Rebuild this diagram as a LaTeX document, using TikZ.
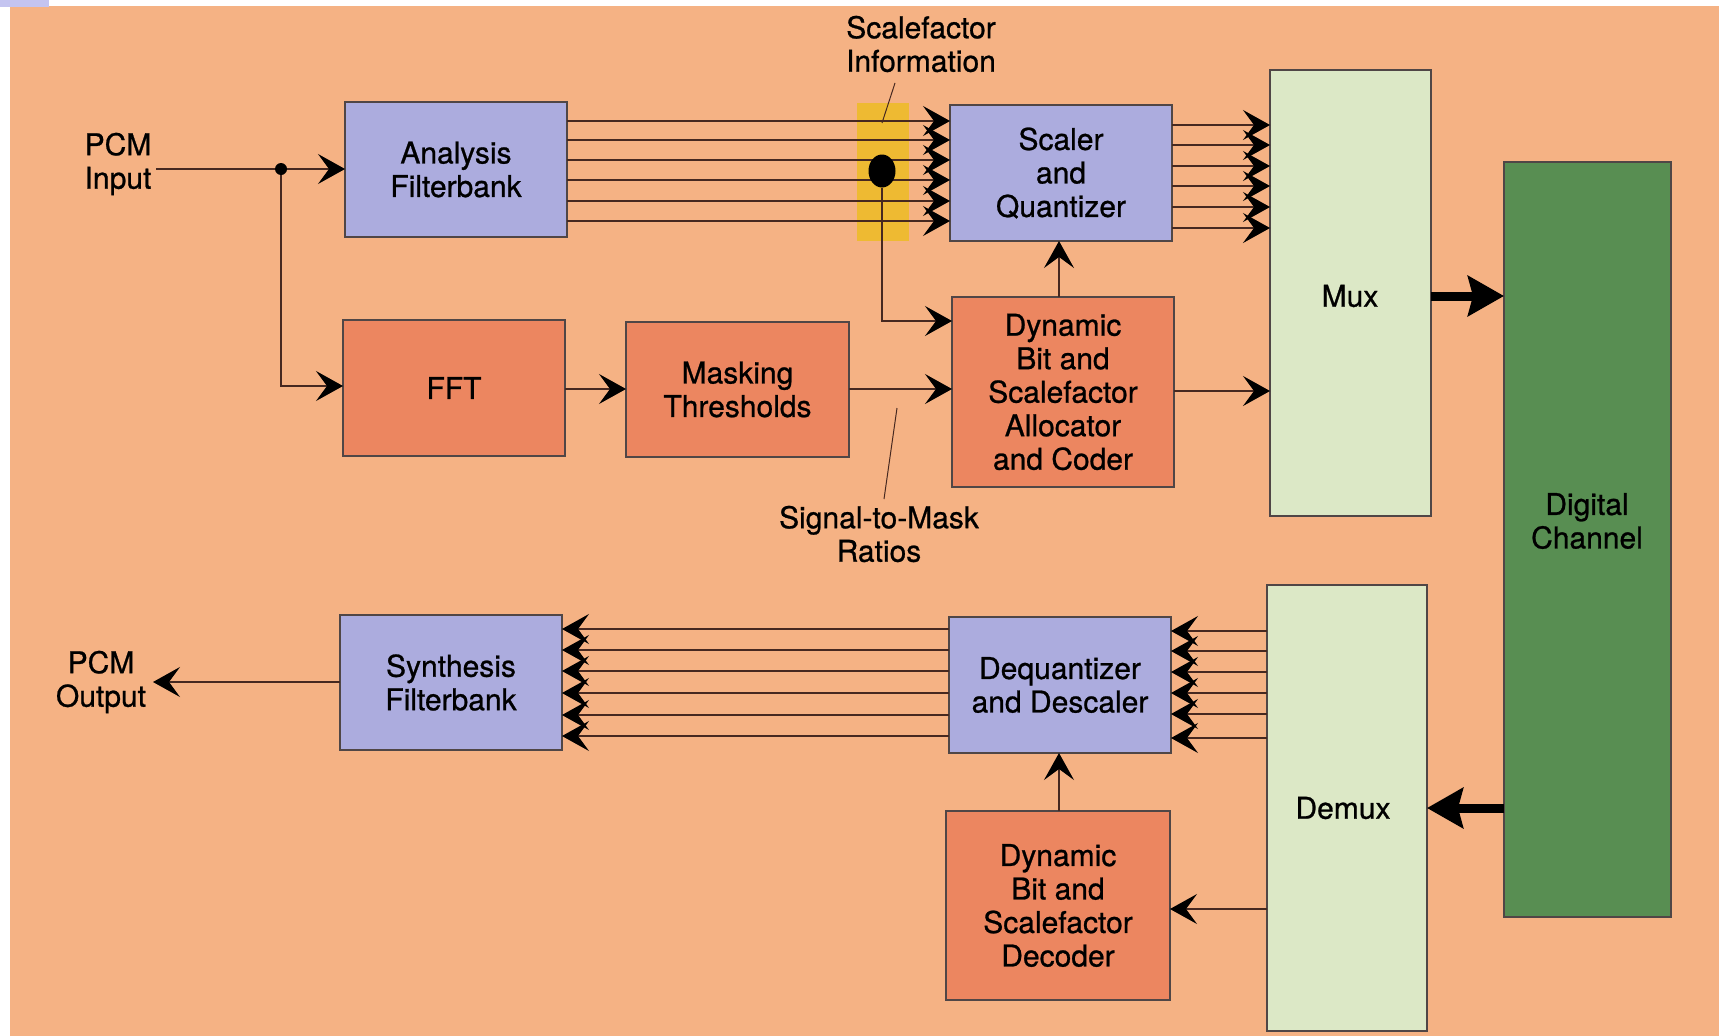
\documentclass[tikz,border=0pt]{standalone}
\usepackage{fontspec}
\setmainfont[FakeBold=0.8]{TeX Gyre Heros}
\usetikzlibrary{arrows.meta,shapes.geometric}
\definecolor{bgc}{RGB}{245,178,132}
\definecolor{bluec}{RGB}{172,172,222}
\definecolor{redc}{RGB}{236,134,96}
\definecolor{paleg}{RGB}{220,232,198}
\definecolor{darkg}{RGB}{88,142,82}
\definecolor{yelc}{RGB}{238,186,50}
\definecolor{lavc}{RGB}{196,196,240}
\definecolor{boxline}{RGB}{80,70,70}
\definecolor{wirec}{RGB}{70,40,32}
\newcommand\fsz{\fontsize{30}{33.5}\selectfont}
\tikzset{
 bx/.style={draw=boxline, line width=1.5pt, inner sep=0pt, outer sep=0pt, align=center, font=\fsz},
 bluebox/.style={bx, fill=bluec},
 redbox/.style={bx, fill=redc},
 muxbox/.style={bx, fill=paleg},
 chanbox/.style={bx, fill=darkg},
 lbl/.style={align=center, inner sep=0pt, font=\fsz},
 wire/.style={draw=wirec, line width=1.3pt},
 chev/.style={wire, -{Stealth[length=27pt,width=30pt,inset=11pt,color=black]}},
 bigarrow/.style={draw=black, line width=9pt, -{Stealth[length=36pt,width=40pt,inset=5pt]}},
}
\begin{document}
\begin{tikzpicture}[x=1pt,y=-1pt]
\useasboundingbox (0,0) rectangle (1719,1036);
\fill[white] (0,0) rectangle (1719,1036);
\fill[bgc] (10,6) rectangle (1719,1036);
\fill[lavc] (0,0) rectangle (49,7);

% yellow band
\node[fill=yelc, minimum width=52pt, minimum height=138pt, inner sep=0pt, outer sep=0pt] (band) at (883,172) {};

% boxes
\node[bluebox, minimum width=222pt, minimum height=135pt] (ana) at (456,169.5) {Analysis\\Filterbank};
\node[redbox, minimum width=222pt, minimum height=136pt] (fft) at (454,388) {FFT};
\node[redbox, minimum width=223pt, minimum height=135pt] (mask) at (737.5,389.5) {Masking\\Thresholds};
\node[bluebox, minimum width=222pt, minimum height=136pt] (sq) at (1061,173) {Scaler\\and\\Quantizer};
\node[redbox, minimum width=222pt, minimum height=190pt] (dyn) at (1063,392) {Dynamic\\Bit and\\Scalefactor\\Allocator\\and Coder};
\node[muxbox, minimum width=161pt, minimum height=446pt] (mux) at (1350.5,293) {};
\node[lbl] (muxt) at (1350,296) {Mux};
\node[chanbox, minimum width=167pt, minimum height=755pt] (ch) at (1587.5,539.5) {};
\node[lbl] (cht) at (1587,521) {Digital\\Channel};
\node[muxbox, minimum width=160pt, minimum height=446pt] (dmx) at (1347,808) {};
\node[lbl] (dmxt) at (1343,808) {Demux};
\node[bluebox, minimum width=222pt, minimum height=136pt] (dq) at (1060,685) {Dequantizer\\and Descaler};
\node[bluebox, minimum width=222pt, minimum height=135pt] (syn) at (451,682.5) {Synthesis\\Filterbank};
\node[redbox, minimum width=224pt, minimum height=189pt] (dec) at (1058,905.5) {Dynamic\\Bit and\\Scalefactor\\Decoder};

% labels
\node[lbl] (pcmin) at (118,164) {PCM\\Input};
\node[lbl] (pcmout) at (101,682) {PCM\\Output};
\node[lbl] (sfi) at (921,44) {Scalefactor\\Information};
\node[lbl] (smr) at (879,534) {Signal-to-Mask\\Ratios};

\coordinate (inStart) at (156,169);
\coordinate (outTip) at (153,682);
\coordinate (sfiA) at (895,83);
\coordinate (sfiB) at (882,123);
\coordinate (smrA) at (897,408);
\coordinate (smrB) at (884,499);

% input split
\node[circle, fill=black, minimum size=12pt, inner sep=0pt] (j1) at (281,169) {};
\draw[wire] (inStart) -- (j1);
\draw[chev] (j1) -- (ana.west |- j1);
\draw[chev] (j1) |- (fft.west |- 0,386);

% analysis -> scaler (six subbands)
\foreach \y in {121,140,160,180,201,221}
  \draw[chev] (ana.east |- 0,\y) -- (sq.west |- 0,\y);

% scalefactor dot
\node[ellipse, fill=black, minimum width=27pt, minimum height=33pt, inner sep=0pt] (dot) at (882,171) {};
\draw[chev] (dot) |- (dyn.west |- 0,321);

% fft -> masking -> dynamic
\draw[chev] (fft.east |- 0,389) -- (mask.west |- 0,389);
\draw[chev] (mask.east |- 0,389) -- (dyn.west |- 0,389);
\draw[chev] (dyn.north -| 1059,0) -- (sq.south -| 1059,0);
\draw[chev] (dyn.east |- 0,391) -- (mux.west |- 0,391);

% scaler -> mux
\foreach \y in {125,145,166,186,207,228}
  \draw[chev] (sq.east |- 0,\y) -- (mux.west |- 0,\y);

% channel arrows
\draw[bigarrow] (mux.east |- 0,296) -- (ch.west |- 0,296);
\draw[bigarrow] (ch.west |- 0,808) -- (dmx.east |- 0,808);

% demux -> dequantizer
\foreach \y in {631,651,672,693,714,738}
  \draw[chev] (dmx.west |- 0,\y) -- (dq.east |- 0,\y);
% dequantizer -> synthesis
\foreach \y in {629,650,671,693,715,736}
  \draw[chev] (dq.west |- 0,\y) -- (syn.east |- 0,\y);

\draw[chev] (dmx.west |- 0,909) -- (dec.east |- 0,909);
\draw[chev] (dec.north -| 1059,0) -- (dq.south -| 1059,0);
\draw[chev] (syn.west |- 0,682) -- (outTip);

% leaders
\draw[wire, line width=1pt] (sfiA) -- (sfiB);
\draw[wire, line width=1pt] (smrA) -- (smrB);
\end{tikzpicture}
\end{document}
